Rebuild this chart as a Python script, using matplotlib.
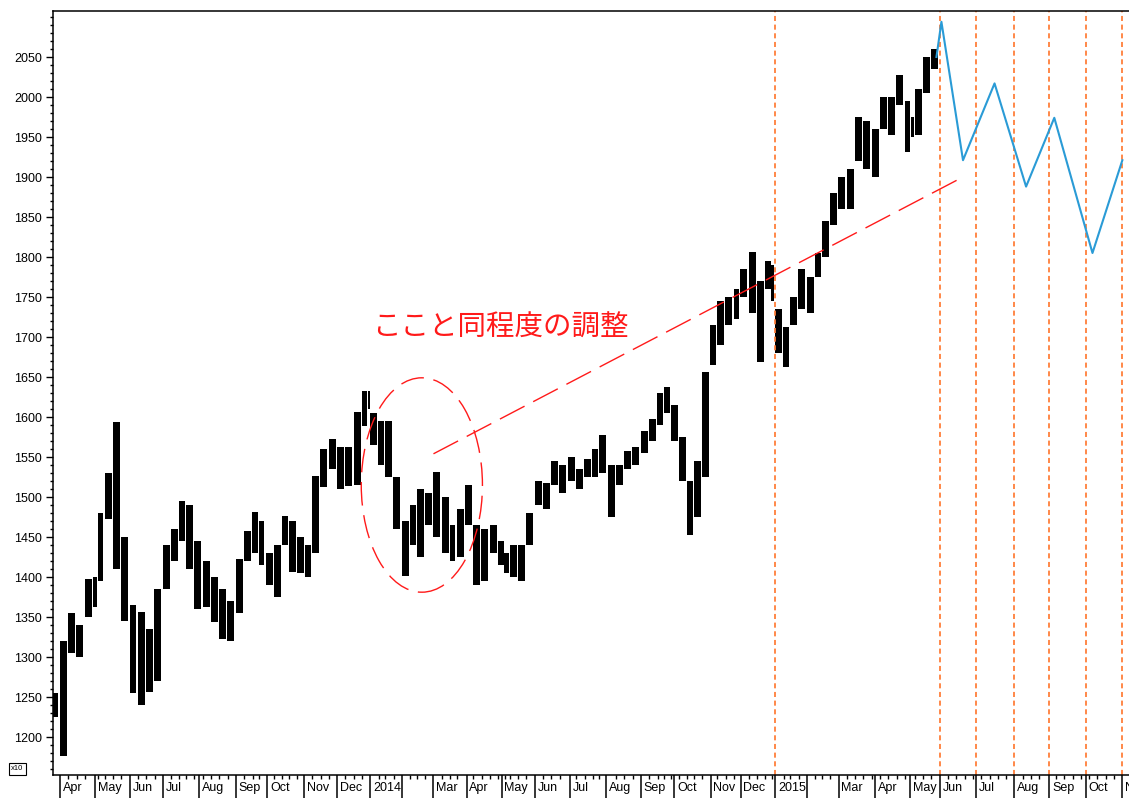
import numpy as np
import pandas as pd
import matplotlib
matplotlib.use("Agg")
import matplotlib.pyplot as plt
import matplotlib.transforms as mtransforms
from matplotlib.patches import Ellipse
from matplotlib.ticker import MultipleLocator

# ---------------- data ----------------
JP_HOLIDAYS = [
    '2013-04-29', '2013-05-03', '2013-05-06', '2013-07-15', '2013-09-16', '2013-09-23',
    '2013-10-14', '2013-11-04', '2013-12-23', '2013-12-31',
    '2014-01-01', '2014-01-02', '2014-01-03', '2014-01-13', '2014-02-11', '2014-03-21',
    '2014-04-29', '2014-05-05', '2014-05-06', '2014-07-21', '2014-09-15', '2014-09-23',
    '2014-10-13', '2014-11-03', '2014-11-24', '2014-12-23', '2014-12-31',
    '2015-01-01', '2015-01-02', '2015-01-12', '2015-02-11', '2015-04-29', '2015-05-04',
    '2015-05-05', '2015-05-06',
]

FIRST_WEEK = '2013-03-25'   # Monday of the first weekly bar

weekly_high = [
    1255, 1320, 1355, 1340, 1398, 1400, 1480, 1530, 1594, 1450,
    1365, 1356, 1335, 1385, 1440, 1460, 1495, 1490, 1445, 1420,
    1400, 1385, 1370, 1422, 1458, 1481, 1470, 1430, 1440, 1476,
    1470, 1450, 1440, 1526, 1560, 1572, 1562, 1562, 1606, 1632,
    1632, 1605, 1595, 1595, 1525, 1470, 1490, 1510, 1505, 1531,
    1500, 1465, 1485, 1515, 1465, 1460, 1465, 1445, 1430, 1440,
    1440, 1480, 1520, 1518, 1545, 1540, 1550, 1535, 1548, 1560,
    1578, 1540, 1540, 1558, 1562, 1582, 1598, 1630, 1637, 1615,
    1575, 1520, 1545, 1656, 1715, 1745, 1750, 1760, 1785, 1806,
    1770, 1795, 1790, 1735, 1712, 1750, 1785, 1775, 1805, 1845,
    1880, 1900, 1910, 1975, 1970, 1960, 2000, 2000, 2028, 1995,
    1975, 2010, 2050, 2060,
]
weekly_low = [
    1225, 1176, 1305, 1300, 1350, 1362, 1395, 1472, 1410, 1345,
    1255, 1240, 1256, 1270, 1385, 1420, 1445, 1410, 1360, 1362,
    1344, 1322, 1320, 1355, 1420, 1430, 1415, 1390, 1375, 1440,
    1406, 1405, 1400, 1430, 1512, 1535, 1510, 1514, 1515, 1589,
    1610, 1565, 1540, 1525, 1460, 1401, 1440, 1425, 1465, 1450,
    1430, 1420, 1425, 1465, 1390, 1395, 1430, 1415, 1405, 1400,
    1395, 1440, 1490, 1485, 1515, 1505, 1520, 1510, 1525, 1525,
    1530, 1475, 1515, 1535, 1540, 1555, 1570, 1590, 1605, 1570,
    1520, 1453, 1475, 1525, 1665, 1690, 1715, 1722, 1750, 1730,
    1669, 1760, 1745, 1680, 1662, 1715, 1735, 1730, 1775, 1800,
    1840, 1860, 1860, 1920, 1910, 1900, 1960, 1952, 1990, 1931,
    1950, 1952, 2005, 2035,
]

proj_dates = ['2015-05-28', '2015-06-02', '2015-06-19', '2015-07-16',
              '2015-08-12', '2015-09-04', '2015-10-07', '2015-11-02']
proj_values = [2050, 2094, 1921, 2017, 1888, 1974, 1805, 1921]

MONTH_LABELS = ['Apr', 'May', 'Jun', 'Jul', 'Aug', 'Sep', 'Oct', 'Nov', 'Dec',
                '2014', '', 'Mar', 'Apr', 'May', 'Jun', 'Jul', 'Aug', 'Sep', 'Oct', 'Nov', 'Dec',
                '2015', '', 'Mar', 'Apr', 'May', 'Jun', 'Jul', 'Aug', 'Sep', 'Oct', 'Nov']

ORANGE_MONTHS = ['2015-01', '2015-06', '2015-07', '2015-08', '2015-09', '2015-10', '2015-11']

trend_dates = ['2014-03-03', '2015-06-19']
trend_values = [1554, 1900]

circle_center_date = '2014-02-20'
circle_center_value = 1515
circle_width_days = 73
circle_height_value = 268

note_text = 'ここと同程度の調整'
note_date = '2014-01-07'
note_value = 1711

# ---------------- trading-day calendar ----------------
hist = pd.bdate_range(FIRST_WEEK, '2015-05-29', freq='C', holidays=JP_HOLIDAYS)
proj = pd.bdate_range('2015-06-01', '2015-11-30')
cal = hist.append(proj)
origin = cal.searchsorted(pd.Timestamp('2013-04-01'))


def tidx(d):
    return cal.searchsorted(pd.Timestamp(d)) - origin


XMIN, XMAX = -4.2, 644
YMIN, YMAX = 1152.5, 2107.5

# ---------------- figure ----------------
W, H = 1129, 798
fig = plt.figure(figsize=(W / 100, H / 100), dpi=100)
fig.patch.set_facecolor('white')
ax = fig.add_axes([53 / W, 23 / H, 1 - 53 / W, (775 - 11) / H])

weeks = pd.date_range(FIRST_WEEK, periods=len(weekly_high), freq='W-MON')
centers, widths = [], []
for w in weeks:
    first = tidx(w)
    last = tidx(w + pd.Timedelta(days=5)) - 1
    n = last - first + 1
    centers.append((first + last) / 2)
    widths.append(0.8 * n + 0.2)
hi = np.array(weekly_high)
lo = np.array(weekly_low)
ax.bar(centers, hi - lo, bottom=lo, width=widths, color='black', linewidth=0)

# projection
ax.plot([tidx(d) for d in proj_dates], proj_values, color='#2a9bd6', lw=1.5, zorder=4)

# orange vertical dashed lines
for m in ORANGE_MONTHS:
    ax.axvline(tidx(m + '-01'), color='#ff7f3a', lw=1.3, ls=(0, (2.8, 2.0)), zorder=1)

# red trend line
ax.plot([tidx(d) for d in trend_dates], trend_values, color='#ff1a1a', lw=1.0,
        ls=(0, (20, 7)), zorder=5)

# red ellipse
ell = Ellipse((tidx(circle_center_date), circle_center_value), circle_width_days,
              circle_height_value, fill=False, edgecolor='#ff1a1a', lw=1.0,
              ls=(0, (17, 7)), zorder=5)
ax.add_patch(ell)

ax.text(tidx(note_date), note_value, note_text, color='#ff1a1a', fontsize=20.5,
        family=['Noto Sans CJK JP', 'DejaVu Sans'], ha='left', va='center')

# y axis
ax.set_yticks(np.arange(1200, 2051, 50))
ax.yaxis.set_minor_locator(MultipleLocator(10))
ax.tick_params(axis='y', which='major', direction='out', length=5, width=1.0,
               labelsize=9, pad=3, labelfontfamily='Liberation Sans')
ax.tick_params(axis='y', which='minor', direction='out', length=2.5, width=1.0)

# x axis: month ticks on first trading day of each month
month_starts = pd.date_range('2013-04-01', periods=len(MONTH_LABELS), freq='MS')
month_pos = [tidx(m) for m in month_starts]
ax.set_xticks(month_pos)
ax.set_xticklabels([''] * len(month_pos))
week_pos = []
for i in range(1, len(cal)):
    if cal[i].weekday() < cal[i - 1].weekday():
        p = i - origin
        if XMIN < p < XMAX and min(abs(p - q) for q in month_pos) >= 2:
            week_pos.append(p)
ax.set_xticks(week_pos, minor=True)
ax.tick_params(axis='x', which='major', direction='out', length=17, width=1.1)
ax.tick_params(axis='x', which='minor', direction='out', length=3, width=1.0)

# limits after ticks (set_ticks may widen the view)
ax.set_xlim(XMIN, XMAX)
ax.set_ylim(YMIN, YMAX)

trans = mtransforms.blended_transform_factory(ax.transData, ax.transAxes) + \
    mtransforms.ScaledTranslation(2 / 72, -5 / 72, fig.dpi_scale_trans)
for p, lab in zip(month_pos, MONTH_LABELS):
    if lab:
        ax.text(p, 0, lab, transform=trans, ha='left', va='top', fontsize=9,
                family='Liberation Sans', clip_on=False)

for s in ['left', 'bottom', 'top']:
    ax.spines[s].set_linewidth(1.1)
ax.spines['right'].set_visible(False)

fig.text(11 / W, 1 - 769 / H, 'x10', fontsize=5.5, family='Liberation Sans',
         ha='left', va='center',
         bbox=dict(boxstyle='square,pad=0.3', facecolor='white', edgecolor='black', lw=0.8))

fig.savefig('out.png', dpi=100, facecolor='white')
